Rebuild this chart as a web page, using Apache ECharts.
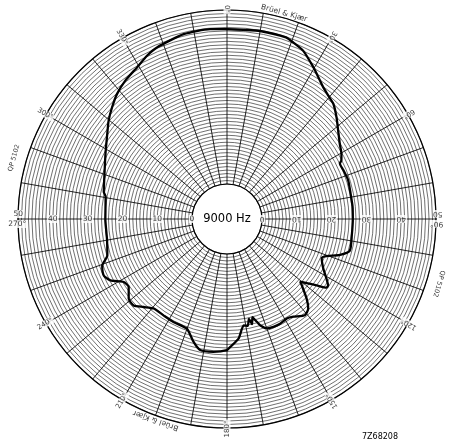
<!DOCTYPE html>
<html><head><meta charset="utf-8">
<script src="https://cdn.jsdelivr.net/npm/echarts@6/dist/echarts.min.js"></script>
<style>html,body{margin:0;padding:0;background:#fff}#c{width:451px;height:442px}</style>
</head><body><div id="c"></div>
<script>
// ---- data ----
const angleTicks = [0, 30, 60, 120, 150, 180, 210, 240, 300, 330];
const angleTickLabels = ['0°', '30°', '60°', '120°', '150°', '180°', '210°', '240°', '300°', '330°'];
const dbTicks = [0, 10, 20, 30, 40];
const dbTickLabels = ['0', '10', '20', '30', '40'];
const curveAngle = [0, 5, 10, 18, 20.6, 24.4, 29.7, 32.8, 36.2, 39.4, 42.7, 47.1, 51.4, 56.3, 60.3, 62.8, 63.8, 67.2, 72.2, 78.3, 84.4, 90, 97, 104.4, 107.6, 110.5, 112.5, 117.3, 121, 123.3, 124.6, 126.5, 128.8, 130.5, 131.6, 135, 137.8, 141, 145.8, 149, 153.1, 156.7, 160, 162.7, 163.8, 165.5, 166.6, 167.6, 169, 171.1, 174.4, 178.5, 180, 185.9, 191.6, 195.3, 200.1, 207.5, 213.4, 219.3, 223.5, 227.2, 231, 235.3, 238.6, 242.2, 245.4, 249.6, 253, 260.6, 270, 280.4, 282.4, 290.4, 298.3, 305.5, 309.8, 314.2, 318.7, 323.7, 329.3, 333.9, 337.8, 346.8, 354.9, 360];
const curveLevel = [44.5, 44.5, 44.8, 44.8, 44.1, 43.0, 40.1, 38.4, 36.8, 35.8, 35.0, 32.9, 30.8, 28.9, 27.8, 26.9, 26.1, 26.2, 26.5, 26.2, 26.2, 26.1, 26.1, 26.4, 24.0, 20.5, 19.4, 21.1, 23.3, 24.7, 24.7, 22.0, 19.3, 17.6, 18.7, 22.3, 24.7, 25.5, 23.9, 23.3, 23.7, 23.7, 23.4, 21.9, 20.7, 19.1, 21.0, 19.3, 21.2, 20.9, 24.4, 26.7, 27.6, 28.3, 28.4, 26.5, 23.5, 23.3, 23.1, 23.2, 24.8, 26.5, 26.3, 24.3, 24.7, 27.8, 28.9, 28.2, 25.9, 24.9, 24.9, 25.4, 26.2, 27.5, 29.6, 32.2, 34.2, 36.0, 37.8, 39.3, 40.6, 42.2, 43.2, 44.5, 44.7, 44.5];
const centerText = '9000 Hz';
const brandText = 'Brüel & Kjær';
const paperText = 'QP 5102';
const serialText = '7Z68208';

// ---- build ----
const FONT = 'DejaVu Sans';
function radialRot(a) { // text reading from outside toward the centre
  const t = a * Math.PI / 180;
  return -Math.atan2(Math.cos(t), -Math.sin(t)) * 180 / Math.PI;
}
const txt = (fs) => ({ show: true, position: 'inside', color: '#000', fontFamily: FONT, fontSize: fs });

const angleLabelData = angleTicks.map((a, i) => ({
  value: [50.3, a],
  label: { formatter: angleTickLabels[i], rotate: radialRot(a), backgroundColor: '#fff', padding: [0, 1] }
}));
const dbLabelData = [];
dbTicks.forEach((v, i) => {
  dbLabelData.push({ value: [v, 270], label: { formatter: dbTickLabels[i], rotate: 0, backgroundColor: '#fff', padding: [0, 1] } });
  dbLabelData.push({ value: [v, 90], label: { formatter: dbTickLabels[i], rotate: 180, backgroundColor: '#fff', padding: [0, 1] } });
});
dbLabelData.push({ value: [50.2, 270], label: { formatter: '50', offset: [1, -5], backgroundColor: '#fff' } });
dbLabelData.push({ value: [50.2, 270], label: { formatter: '270°', offset: [0, 5], backgroundColor: '#fff' } });
dbLabelData.push({ value: [50.2, 90], label: { formatter: '90°', rotate: 180, offset: [0, -5], backgroundColor: '#fff' } });
dbLabelData.push({ value: [50.2, 90], label: { formatter: '50', rotate: 180, offset: [-1, 5], backgroundColor: '#fff' } });

const noteData = [
  { value: [51.3, 15.5], label: { formatter: brandText, rotate: -15.5, fontSize: 7.5 } },
  { value: [51.3, 199.5], label: { formatter: brandText, rotate: 160.5, fontSize: 7.5 } },
  { value: [53.6, 286], label: { formatter: paperText, rotate: 74 } },
  { value: [53.6, 107], label: { formatter: paperText, rotate: -107 } }
];

const chart = echarts.init(document.getElementById('c'), null, { renderer: 'canvas' });
chart.setOption({
  animation: false,
  backgroundColor: '#fff',
  polar: { center: [227, 219], radius: [35, 209] },
  angleAxis: {
    type: 'value', min: 0, max: 360, interval: 10, startAngle: 90, clockwise: true,
    axisLine: { show: true, lineStyle: { color: '#000', width: 1.2 } },
    axisTick: { show: false }, axisLabel: { show: false },
    splitLine: { show: true, lineStyle: { color: '#000', width: 0.85 } }
  },
  radiusAxis: {
    type: 'value', min: 0, max: 50, interval: 1,
    axisLine: { show: false }, axisTick: { show: false }, axisLabel: { show: false },
    splitLine: { show: true, lineStyle: { color: '#222', width: 0.65 } }
  },
  graphic: [
    { type: 'text', x: 227, y: 219, style: { text: centerText, fontFamily: FONT, fontSize: 11.5, fill: '#000', align: 'center', verticalAlign: 'middle' } },
    { type: 'text', x: 380, y: 437, style: { text: serialText, fontFamily: FONT, fontSize: 8, fill: '#000', align: 'center', verticalAlign: 'middle' } }
  ],
  series: [
    {
      type: 'line', coordinateSystem: 'polar', symbol: 'none', smooth: 0.2, clip: false,
      lineStyle: { color: '#000', width: 2.3 },
      data: curveAngle.map((a, i) => [curveLevel[i], a]), z: 5
    },
    { type: 'scatter', coordinateSystem: 'polar', symbolSize: 0, clip: false, silent: true, label: txt(7), data: angleLabelData, z: 6 },
    { type: 'scatter', coordinateSystem: 'polar', symbolSize: 0, clip: false, silent: true, label: txt(7.5), data: dbLabelData, z: 6 },
    { type: 'scatter', coordinateSystem: 'polar', symbolSize: 0, clip: false, silent: true, label: txt(6.5), data: noteData, z: 6 }
  ]
});
</script></body></html>
